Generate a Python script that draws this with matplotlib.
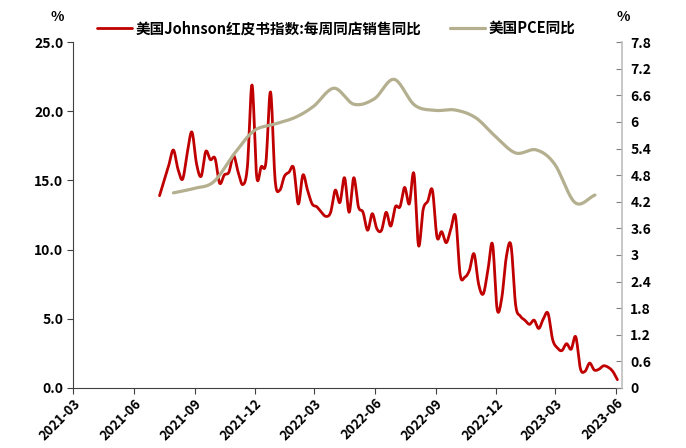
import numpy as np
import pandas as pd
import matplotlib
matplotlib.use("Agg")
import matplotlib.pyplot as plt
import matplotlib.dates as mdates
from matplotlib.ticker import FixedLocator, FuncFormatter

plt.rcParams['font.family'] = ['Noto Sans CJK SC', 'DejaVu Sans']
plt.rcParams['font.weight'] = 'bold'

# Johnson Redbook weekly same-store sales YoY (%), weeks ending Saturday
redbook_start = "2021-07-10"
redbook = [
    13.9, 15.0, 16.1, 17.2, 15.8, 15.1, 17.0, 18.5, 16.2, 15.3,
    17.1, 16.5, 16.6, 14.8, 15.4, 15.6, 16.8, 15.6, 14.7, 16.0,
    21.9, 15.3, 16.0, 16.3, 21.4, 15.0, 14.3, 15.3, 15.6, 15.9,
    13.3, 15.4, 14.3, 13.3, 13.1, 12.7, 12.4, 12.7, 14.3, 13.4,
    15.2, 12.7, 15.2, 13.1, 12.7, 11.4, 12.6, 11.5, 11.4, 12.7,
    11.7, 13.1, 13.1, 14.5, 13.3, 15.5, 10.3, 12.9, 13.5, 14.3,
    10.9, 11.3, 10.5, 11.5, 12.4, 8.2, 8.0, 8.5, 9.7, 7.5,
    6.8, 8.5, 10.4, 5.7, 6.5, 9.5, 10.3, 6.0, 5.2, 4.9,
    4.6, 4.9, 4.3, 5.0, 5.4, 3.5, 2.9, 2.7, 3.2, 2.8,
    3.7, 1.4, 1.2, 1.8, 1.3, 1.35, 1.6, 1.5, 1.2, 0.6,
]

# US PCE YoY (%), month end
pce_start = "2021-07-31"
pce = [
    4.40, 4.50, 4.65, 5.28, 5.80, 5.95, 6.10, 6.35, 6.76, 6.40, 6.52,
    6.96, 6.38, 6.26, 6.27, 6.10, 5.68, 5.30, 5.37, 5.05, 4.18, 4.35,
]

left_ticks = [0, 5, 10, 15, 20, 25]
right_ticks = [0, 0.6, 1.2, 1.8, 2.4, 3, 3.6, 4.2, 4.8, 5.4, 6, 6.6, 7.2, 7.8]
month_ticks = ["2021-03", "2021-06", "2021-09", "2021-12", "2022-03",
               "2022-06", "2022-09", "2022-12", "2023-03", "2023-06"]

label_red = "美国Johnson红皮书指数:每周同店销售同比"
label_pce = "美国PCE同比"

RED = "#C00000"
KHAKI = "#B3AF8F"


def smooth(x, y, n=12):
    # Catmull-Rom curve through the points, like a smoothed Excel line
    x = np.asarray(x, float)
    y = np.asarray(y, float)
    px = np.concatenate([[2 * x[0] - x[1]], x, [2 * x[-1] - x[-2]]])
    py = np.concatenate([[2 * y[0] - y[1]], y, [2 * y[-1] - y[-2]]])
    t = np.linspace(0, 1, n, endpoint=False)
    xs, ys = [], []
    for i in range(1, len(px) - 2):
        for arr, out in ((px, xs), (py, ys)):
            p0, p1, p2, p3 = arr[i - 1], arr[i], arr[i + 1], arr[i + 2]
            out.append(0.5 * (2 * p1 + (-p0 + p2) * t
                              + (2 * p0 - 5 * p1 + 4 * p2 - p3) * t ** 2
                              + (-p0 + 3 * p1 - 3 * p2 + p3) * t ** 3))
    xs.append([x[-1]])
    ys.append([y[-1]])
    return np.concatenate(xs), np.concatenate(ys)


red_dates = pd.date_range(redbook_start, periods=len(redbook), freq="7D")
pce_dates = pd.date_range(pce_start, periods=len(pce), freq="ME")

fig = plt.figure(figsize=(6.86, 4.48), dpi=100)
ax = fig.add_axes([0.1064, 0.134, 0.8003, 0.772])
ax2 = ax.twinx()

rx, ry = smooth(mdates.date2num(red_dates), redbook)
ax.plot(rx, ry, color=RED, lw=2.0, solid_capstyle="round", label=label_red)
px_, py_ = smooth(mdates.date2num(pce_dates), pce, n=20)
ax2.plot(px_, py_, color=KHAKI, lw=2.3, solid_capstyle="round", label=label_pce)

ax.set_xlim(mdates.date2num(pd.Timestamp("2021-03-01")),
            mdates.date2num(pd.Timestamp("2023-06-10")))
ax.set_ylim(0, 25)
ax2.set_ylim(0, 7.8)

ax.xaxis.set_major_locator(FixedLocator(mdates.date2num(pd.to_datetime(month_ticks))))
ax.set_xticklabels(month_ticks, rotation=45, ha="right", rotation_mode="anchor",
                   fontsize=9.5)
ax.set_yticks(left_ticks)
ax.yaxis.set_major_formatter(FuncFormatter(lambda v, p: f"{v:.1f}"))
ax2.set_yticks(right_ticks)
ax2.yaxis.set_major_formatter(FuncFormatter(lambda v, p: f"{v:g}"))

for a in (ax, ax2):
    a.spines["top"].set_visible(False)
ax.spines["left"].set_color("#404040")
ax.spines["bottom"].set_color("#404040")
ax.spines["right"].set_visible(False)
ax2.spines["left"].set_visible(False)
ax2.spines["bottom"].set_visible(False)
ax2.spines["right"].set_color("#BFBFBF")
ax2.spines["right"].set_linewidth(1.2)

ax.tick_params(axis="x", direction="out", length=4, color="#404040", pad=2)
ax.tick_params(axis="y", direction="out", length=4, color="#404040",
               labelsize=10, pad=3)
ax2.tick_params(axis="y", direction="in", length=4, color="#808080",
                labelsize=10, pad=6)

fig.text(0.083, 0.962, "%", fontsize=10, ha="center", va="center")
fig.text(0.908, 0.962, "%", fontsize=10, ha="center", va="center")

h1, l1 = ax.get_legend_handles_labels()
h2, l2 = ax2.get_legend_handles_labels()
fig.legend(h1 + h2, l1 + l2, loc="center", bbox_to_anchor=(0.49, 0.937),
           ncol=2, frameon=False, fontsize=10.5, handlelength=2.4,
           handletextpad=0.2, columnspacing=2.0)

fig.savefig("out.png", dpi=100)
